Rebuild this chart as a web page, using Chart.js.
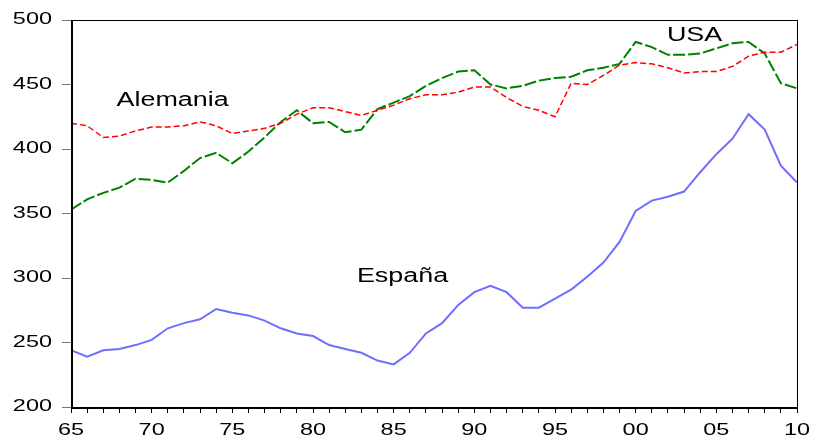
<!DOCTYPE html>
<html>
<head>
<meta charset="utf-8">
<script src="https://cdn.jsdelivr.net/npm/chart.js@4.4.0/dist/chart.umd.min.js"></script>
<style>
    html, body { margin: 0; padding: 0; background: #fff; }
    #wrap { width: 813px; height: 439px; }
</style>
</head>
<body>
<div id="wrap"><canvas id="chart" width="813" height="439"></canvas></div>
<script>
        // Data
        const years = [];
        for (let y = 1965; y <= 2010; y++) years.push(y);

        const espana = [244, 239, 244, 245, 248, 252, 261, 265, 268, 276,
                        273, 271, 267, 261, 257, 255, 248, 245, 242, 236,
                        233, 242, 257, 265, 279, 289, 294, 289, 277, 277,
                        284, 291, 301, 312, 328, 352, 360, 363, 367, 382,
                        396, 408, 427, 415, 387, 374];

        const alemania = [420, 418, 409, 410, 414, 417, 417, 418, 421, 418,
                          412, 414, 416, 420, 427, 432, 432, 429, 426, 430,
                          434, 439, 442, 442, 444, 448, 448, 440, 433, 430,
                          425, 451, 450, 457, 465, 467, 466, 463, 459, 460,
                          460, 464, 472, 475, 475, 481];

        const usa = [353, 361, 366, 370, 377, 376, 374, 383, 393, 397,
                     389, 398, 409, 421, 430, 420, 421, 413, 415, 431,
                     436, 441, 449, 455, 460, 461, 450, 447, 449, 453,
                     455, 456, 461, 463, 466, 483, 479, 473, 473, 474,
                     478, 482, 483, 474, 451, 447];

        const yTicks = [200, 250, 300, 350, 400, 450, 500];
        const xLabelYears = [1965, 1970, 1975, 1980, 1985, 1990, 1995, 2000, 2005, 2010];

        // Series names placed inside the plot (x = year, y = value at text baseline)
        const seriesLabels = [
            { text: 'USA', x: 2003.65, y: 484 },
            { text: 'Alemania', x: 1971.3, y: 433 },
            { text: 'España', x: 1985.55, y: 297 }
        ];

        const toPoints = arr => arr.map((v, i) => ({ x: years[i], y: v }));

        // The original uses a wide sans face; squeeze in by stretching Liberation Sans
        const STRETCH = 1.38;
        function wideText(ctx, text, x, y, size, align) {
            ctx.save();
            ctx.font = size + 'px "Liberation Sans", Arial, sans-serif';
            ctx.textBaseline = 'alphabetic';
            ctx.textAlign = align;
            ctx.translate(x, y);
            ctx.scale(STRETCH, 1);
            ctx.fillText(text, 0, 0);
            ctx.restore();
        }

        const framePlugin = {
            id: 'frame',
            afterDraw(chart) {
                const ctx = chart.ctx;
                const a = chart.chartArea;
                const xs = chart.scales.x, ys = chart.scales.y;
                ctx.save();
                ctx.strokeStyle = '#000';
                ctx.lineWidth = 1;
                ctx.strokeRect(a.left + 0.5, a.top + 0.5, a.right - a.left, a.bottom - a.top);
                ctx.lineWidth = 2;
                ctx.beginPath();
                ctx.moveTo(a.left + 1, a.top);
                ctx.lineTo(a.left + 1, a.bottom + 1);
                ctx.lineTo(a.right, a.bottom + 1);
                ctx.stroke();

                ctx.fillStyle = '#000';
                // tick labels
                yTicks.forEach(v => {
                    wideText(ctx, String(v), a.left - 19, ys.getPixelForValue(v) + 4, 17, 'right');
                });
                xLabelYears.forEach(v => {
                    wideText(ctx, String(v % 100).padStart(2, '0'), xs.getPixelForValue(v), a.bottom + 28, 17, 'center');
                });
                // series names
                seriesLabels.forEach(l => {
                    wideText(ctx, l.text, xs.getPixelForValue(l.x), ys.getPixelForValue(l.y), 19.5, 'center');
                });
                ctx.restore();
            }
        };

        const ctx = document.getElementById('chart').getContext('2d');
        const chart = new Chart(ctx, {
            type: 'line',
            data: {
                datasets: [{
                    label: 'España',
                    data: toPoints(espana),
                    borderColor: '#6f6fff',
                    borderWidth: 2,
                    pointRadius: 0,
                    tension: 0
                }, {
                    label: 'Alemania',
                    data: toPoints(alemania),
                    borderColor: '#ff0000',
                    borderWidth: 1.5,
                    borderDash: [6, 3],
                    pointRadius: 0,
                    tension: 0
                }, {
                    label: 'USA',
                    data: toPoints(usa),
                    borderColor: '#008000',
                    borderWidth: 2,
                    borderDash: [12, 3],
                    pointRadius: 0,
                    tension: 0
                }]
            },
            options: {
                responsive: false,
                animation: false,
                layout: { padding: { left: 0, right: 16, top: 20, bottom: 0 } },
                plugins: {
                    legend: { display: false },
                    tooltip: { enabled: false }
                },
                scales: {
                    x: {
                        type: 'linear',
                        min: 1965,
                        max: 2010,
                        afterBuildTicks(axis) {
                            axis.ticks = years.map(v => ({ value: v }));
                        },
                        afterFit(axis) { axis.height = 32; },
                        ticks: { display: false },
                        grid: {
                            drawOnChartArea: false,
                            drawTicks: true,
                            tickLength: 6,
                            color: '#000'
                        },
                        border: { display: false }
                    },
                    y: {
                        min: 200,
                        max: 500,
                        afterBuildTicks(axis) {
                            axis.ticks = yTicks.map(v => ({ value: v }));
                        },
                        afterFit(axis) { axis.width = 71; },
                        ticks: { display: false },
                        grid: {
                            drawOnChartArea: false,
                            drawTicks: true,
                            tickLength: 9,
                            color: '#777'
                        },
                        border: { display: false }
                    }
                }
            },
            plugins: [framePlugin]
        });
</script>
</body>
</html>
